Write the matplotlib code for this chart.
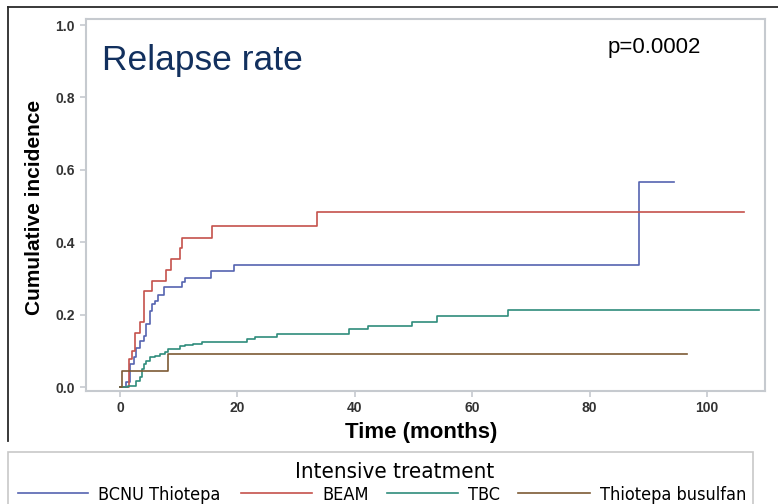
import matplotlib
matplotlib.use("Agg")
import matplotlib.pyplot as plt
from matplotlib.lines import Line2D
from matplotlib.patches import Rectangle

# Cumulative incidence of relapse, step times (months) and values per regimen
series_names = ["BCNU Thiotepa", "BEAM", "TBC", "Thiotepa busulfan"]

bcnu_t = [0, 1.1, 1.7, 2.3, 2.8, 3.4, 4.0, 4.5, 5.1, 5.4, 6.0, 6.5, 7.5,
          10.5, 11.1, 15.5, 19.5, 88.4, 94.4]
bcnu_v = [0, 0.014, 0.063, 0.082, 0.109, 0.127, 0.141, 0.173, 0.210, 0.228,
          0.237, 0.255, 0.276, 0.289, 0.301, 0.321, 0.338, 0.566, 0.566]

beam_t = [0, 1.6, 2.0, 2.6, 3.4, 4.1, 5.4, 7.9, 8.7, 10.2, 10.5, 15.7,
          33.6, 106.3]
beam_v = [0, 0.077, 0.100, 0.150, 0.180, 0.265, 0.294, 0.324, 0.354,
          0.384, 0.413, 0.446, 0.484, 0.484]

tbc_t = [0, 1.4, 2.8, 3.4, 3.7, 4.0, 4.5, 5.1, 6.0, 6.8, 7.7, 8.2, 10.2,
         11.1, 12.5, 13.9, 21.6, 23.0, 26.7, 39.0, 42.3, 49.7, 54.0, 66.1,
         108.9]
tbc_v = [0, 0.004, 0.017, 0.027, 0.050, 0.063, 0.072, 0.082, 0.086, 0.091,
         0.097, 0.104, 0.112, 0.115, 0.118, 0.125, 0.132, 0.139, 0.146,
         0.159, 0.168, 0.180, 0.196, 0.212, 0.212]

thiobu_t = [0, 0.4, 8.2, 96.6]
thiobu_v = [0, 0.045, 0.090, 0.090]

x_ticks = [0, 20, 40, 60, 80, 100]
y_ticks = [0.0, 0.2, 0.4, 0.6, 0.8, 1.0]

colors = ["#5563b0", "#c5524c", "#2f8c7c", "#7d5a35"]

W, H = 778, 504
fig = plt.figure(figsize=(W / 100, H / 100), dpi=100)
fig.patch.set_facecolor("white")


def fx(x):
    return x / W


def fy(y):
    return 1 - y / H


ax = fig.add_axes([fx(86), fy(391), fx(765) - fx(86), fy(19) - fy(391)])

curves = [(bcnu_t, bcnu_v), (beam_t, beam_v), (tbc_t, tbc_v),
          (thiobu_t, thiobu_v)]
for (t, v), c, name in zip(curves, colors, series_names):
    ax.plot(t, v, drawstyle="steps-post", color=c, lw=1.2, label=name)

ax.set_xlim(-5.8, 109.9)
ax.set_ylim(-0.011, 1.0166)
ax.set_xticks(x_ticks)
ax.set_yticks(y_ticks)
ax.set_xticklabels([str(v) for v in x_ticks])
ax.set_yticklabels([f"{v:.1f}" for v in y_ticks])

spine_col = "#c6cacf"
for s in ax.spines.values():
    s.set_color(spine_col)
    s.set_linewidth(1.5)
ax.tick_params(axis="both", direction="out", length=4, width=1.2,
               color=spine_col, labelcolor="#333333", labelsize=10)
ax.tick_params(axis="x", pad=3)
ax.tick_params(axis="y", pad=4)
for lab in ax.get_xticklabels() + ax.get_yticklabels():
    lab.set_fontweight("bold")
    lab.set_family("Liberation Sans")

# Titles and annotations
fig.text(fx(102), fy(70), "Relapse rate", fontsize=25.5, color="#12305e",
         family="Liberation Sans", ha="left", va="baseline")
fig.text(fx(608), fy(53), "p=0.0002", fontsize=16, color="black",
         family="Liberation Sans", ha="left", va="baseline")
fig.text(fx(35), fy(207), "Cumulative incidence", fontsize=15,
         fontweight="bold", color="black", family="Liberation Sans",
         rotation=90, ha="center", va="center")
fig.text(fx(421), fy(438), "Time (months)", fontsize=16, fontweight="bold",
         color="black", family="Liberation Sans", ha="center",
         va="baseline")

# Slide frame lines
fig.add_artist(Line2D([fx(8), fx(778)], [fy(7), fy(7)], color="#2a2a2a",
                      lw=1.3))
fig.add_artist(Line2D([fx(8), fx(8)], [fy(7), fy(441)], color="#2a2a2a",
                      lw=1.3))

# Legend box
fig.add_artist(Rectangle((fx(8), fy(515)), fx(753) - fx(8), fy(452) - fy(515),
                         transform=fig.transFigure, facecolor="white",
                         edgecolor="#c8c8c8", lw=1.2))
narrow = dict(family="DejaVu Sans", fontstretch="condensed")
fig.text(fx(395), fy(478), "Intensive treatment", fontsize=16,
         color="black", ha="center", va="baseline", **narrow)

seg_x = [(18, 88), (241, 312), (387, 458), (518, 590)]
text_x = [98, 322, 468, 600]
for (x0, x1), tx, c, name in zip(seg_x, text_x, colors, series_names):
    fig.add_artist(Line2D([fx(x0), fx(x1)], [fy(493), fy(493)], color=c,
                          lw=1.2))
    fig.text(fx(tx), fy(500), name, fontsize=13, color="black",
             ha="left", va="baseline", **narrow)

fig.savefig("out.png", dpi=100)
